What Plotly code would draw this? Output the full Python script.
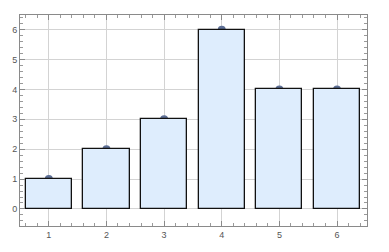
import plotly.graph_objects as go

categories = [1, 2, 3, 4, 5, 6]
values = [1, 2, 3, 6, 4, 4]
tick_labels = ["1", "2", "3", "4", "5", "6"]
y_ticks = [0, 1, 2, 3, 4, 5, 6]

x_range = [0.5, 6.52]
y_range = [-0.57, 6.49]

fig = go.Figure()
# points drawn underneath the bars (main subplot)
fig.add_trace(go.Scatter(
    x=categories, y=values, mode="markers",
    marker=dict(color="#5d6f96", size=8), hoverinfo="skip", showlegend=False,
    xaxis="x", yaxis="y"))
# bars on an overlaid subplot so they sit on top of the points
fig.add_trace(go.Bar(
    x=categories, y=values, width=0.8,
    marker=dict(color="#deedfd", line=dict(color="#111111", width=1.3)),
    showlegend=False, xaxis="x2", yaxis="y2"))

axis_common = dict(
    showline=True, linecolor="#8a8a8a", linewidth=1, mirror="ticks",
    ticks="inside", ticklen=5, tickcolor="#8a8a8a", tickwidth=1,
    showgrid=True, gridcolor="#d3d3d3", gridwidth=1, zeroline=False,
    tickfont=dict(family="Liberation Sans, Arial", size=9, color="#555555"),
    minor=dict(ticks="inside", ticklen=3, tickcolor="#9a9a9a", dtick=0.2, showgrid=False),
)

fig.update_layout(
    width=389, height=252,
    margin=dict(l=16, r=22, t=15, b=20),
    paper_bgcolor="white", plot_bgcolor="white",
    bargap=0,
    xaxis=dict(range=x_range, tickmode="array", tickvals=categories, ticktext=tick_labels,
               **axis_common),
    yaxis=dict(range=y_range, tickmode="array", tickvals=y_ticks, **axis_common),
    xaxis2=dict(range=x_range, overlaying="x", visible=False),
    yaxis2=dict(range=y_range, overlaying="y", visible=False, anchor="x2"),
)
fig.write_html("out.html")
